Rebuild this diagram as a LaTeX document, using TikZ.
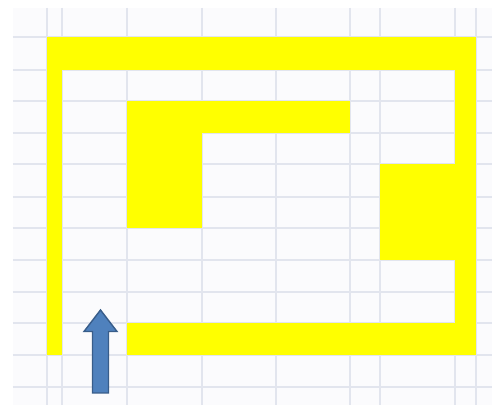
\documentclass[tikz,border=0pt]{standalone}
\usepackage{tikz}

\definecolor{gradecinza}{RGB}{226,229,238}
\definecolor{fundo}{RGB}{251,251,253}
\definecolor{amarelo}{RGB}{255,255,0}
\definecolor{azulseta}{RGB}{79,129,189}
\definecolor{bordaseta}{RGB}{56,93,138}

\tikzset{
  parede/.style={fill=amarelo, draw=none},
  grade/.style={gradecinza, line width=0.6pt}
}

\begin{document}
\begin{tikzpicture}[x=0.02cm, y=-0.02cm]

\useasboundingbox (0,0) rectangle (495,405);
\fill[white] (0,0) rectangle (495,405);
\fill[fundo] (13,8) rectangle (492,405);

% Grade da planilha
\foreach \x in {47, 62, 127, 202, 276, 350, 380, 455, 476}{
    \draw[grade] (\x,8) -- (\x,405);
}
\foreach \y in {37, 70, 101, 133, 164, 197, 228, 260, 292, 323, 355, 387}{
    \draw[grade] (13,\y) -- (492,\y);
}

% Paredes do labirinto (células amarelas)
\fill[parede] (47,37) rectangle (476,70);
\fill[parede] (47,37) rectangle (62,355);
\fill[parede] (455,37) rectangle (476,355);
\fill[parede] (127,323) rectangle (476,355);
\fill[parede] (127,101) rectangle (350,133);
\fill[parede] (127,101) rectangle (202,228);
\fill[parede] (380,164) rectangle (476,260);

% Seta de entrada
\filldraw[fill=azulseta, draw=bordaseta, line width=0.8pt, line join=miter]
    (92.5,393) -- (92.5,331.5) -- (84,331.5) -- (100.5,310) -- (117,331.5)
    -- (108.5,331.5) -- (108.5,393) -- cycle;

\end{tikzpicture}
\end{document}
